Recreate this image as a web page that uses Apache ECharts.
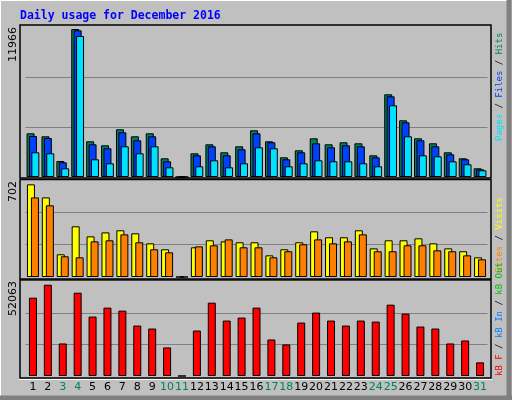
<!DOCTYPE html>
<html><head><meta charset="utf-8">
<script src="https://cdn.jsdelivr.net/npm/echarts@6/dist/echarts.min.js"></script>
<style>html,body{margin:0;padding:0;background:#C0C0C0}#c{width:512px;height:400px}</style>
</head><body><div id="c"></div>
<script>
var days = ['1','2','3','4','5','6','7','8','9','10','11','12','13','14','15','16','17','18','19','20','21','22','23','24','25','26','27','28','29','30','31'];
var weekend = ['3','4','10','11','17','18','24','25','31'];
var hits  = [3533,3290,1294,11966,2886,2563,3857,3290,3533,1512,0,1916,2644,1997,2482,3776,2886,1593,2159,3129,2644,2806,2725,1754,6686,4584,3129,2725,1997,1512,703];
var files = [3315,3153,1188,11860,2644,2320,3614,2967,3290,1269,0,1754,2482,1754,2240,3533,2806,1431,1997,2725,2401,2563,2482,1593,6525,4422,2967,2482,1835,1431,623];
var pages = [1997,1916,703,11400,1431,1108,2482,1916,2482,784,0,865,1350,784,1108,2401,2320,865,1108,1350,1269,1269,1108,865,5797,3290,1754,1675,1269,1027,542];
var visits = [702,603,172,384,308,338,354,331,255,210,0,225,278,270,263,263,164,210,263,346,301,301,354,217,278,278,293,255,217,195,149];
var sites  = [603,543,157,149,270,278,323,263,210,187,0,232,240,285,225,225,149,195,248,285,255,270,323,195,195,240,240,202,195,164,134];
var kbytes = [44690,52063,18570,47530,33900,39010,37300,28790,27080,16300,0,25950,41850,31630,33330,39010,20840,18000,30490,36170,31630,28790,31630,31060,40710,35600,28220,27080,18570,20270,7780];
var maxLabels = ['11966','702','52063'];

var ch = echarts.init(document.getElementById('c'));
var gl = 25.5, gw = 462;
function yAx(idx, max){
  return {gridIndex: idx, type:'value', min:0, max:max, interval:max/3,
    axisLabel:{show:false}, axisLine:{show:false}, axisTick:{show:false},
    splitLine:{show:true, showMinLine:false, showMaxLine:false, lineStyle:{color:'#808080', width:1}}};
}
function xAx(idx, show){
  return {gridIndex: idx, type:'category', data: days, axisLine:{show:false}, axisTick:{show:false},
    axisLabel: show ? {show:true, interval:0, margin:6, fontFamily:'DejaVu Sans', fontSize:11,
      formatter:function(v){ return weekend.indexOf(v)>=0 ? '{w|'+v+'}' : '{n|'+v+'}'; },
      rich:{w:{color:'#00805C', fontSize:11, fontFamily:'DejaVu Sans'}, n:{color:'#000', fontSize:11, fontFamily:'DejaVu Sans'}}} : {show:false}};
}
function bar(name, data, xi, color, gap){
  var s = {name:name, type:'bar', data:data, xAxisIndex:xi, yAxisIndex:xi, barWidth:8,
    itemStyle:{color:color, borderColor:'#000', borderWidth:1}, animation:false, silent:true};
  if (gap) s.barGap = gap;
  return s;
}
var mono = 'DejaVu Sans Mono';
function vtext(x, y, rich, text, size){
  return {type:'text', x:x, y:y, rotation:Math.PI/2, silent:true,
    style:{text:text, rich:rich, fontFamily:mono, fontSize:size, align:'left', verticalAlign:'middle'}};
}
function panel(y1, y2){
  return [
    {type:'rect', shape:{x:20, y:y1, width:471, height:y2-y1}, style:{fill:'none', stroke:'#000', lineWidth:1.5}, z:-1},
    {type:'line', shape:{x1:19, y1:y2+1.5, x2:492, y2:y2+1.5}, style:{stroke:'#fff', lineWidth:1}, z:-1}
  ];
}
var ylab = function(x, y, t){
  return {type:'text', x:x, y:y, rotation:Math.PI/2, silent:true,
    style:{text:t, fontFamily:'DejaVu Sans', fontSize:11, fill:'#000', align:'right', verticalAlign:'middle'}};
};
var graphics = [
  {type:'rect', shape:{x:0.5, y:0.5, width:510, height:398}, style:{fill:'none', stroke:'#fff', lineWidth:1}},
  {type:'line', shape:{x1:509, y1:0, x2:509, y2:400}, style:{stroke:'#808080', lineWidth:5}},
  {type:'line', shape:{x1:0, y1:398, x2:512, y2:398}, style:{stroke:'#808080', lineWidth:5}},
  {type:'text', x:20, y:16, silent:true, style:{text:'Daily usage for December 2016', fontFamily:mono, fontWeight:'bold', fontSize:11.5, fill:'#0000FF', verticalAlign:'middle'}},
  ylab(13, 27, maxLabels[0]), ylab(13, 181, maxLabels[1]), ylab(13, 281, maxLabels[2]),
  vtext(500, 141, {p:{fill:'#00E0FF'}, f:{fill:'#0040FF'}, h:{fill:'#00805C'}, s:{fill:'#000'}},
    '{p|Pages}{s| / }{f|Files}{s| / }{h|Hits}', 9),
  vtext(500, 273, {o:{fill:'#FF8000'}, v:{fill:'#FFFF00'}, s:{fill:'#000'}},
    '{o|Sites}{s| / }{v|Visits}', 9),
  vtext(500, 376, {a:{fill:'#FF0000'}, b:{fill:'#0080FF'}, c:{fill:'#00C000'}, s:{fill:'#000'}},
    '{a|kB F}{s| / }{b|kB In}{s| / }{c|kB Out}', 9)
].concat(panel(25,178), panel(179.5,279), panel(280,378));

ch.setOption({
  backgroundColor:'#C0C0C0',
  animation:false,
  grid:[
    {left:gl, width:gw, top:27, height:150},
    {left:gl, width:gw, top:180, height:97},
    {left:gl, width:gw, top:282, height:94}
  ],
  xAxis:[xAx(0,false), xAx(1,false), xAx(2,true)],
  yAxis:[yAx(0, 12128), yAx(1, 735), yAx(2, 53640)],
  series:[
    bar('Hits', hits, 0, '#00805C'),
    bar('Files', files, 0, '#0040FF', '-70%'),
    bar('Pages', pages, 0, '#00E0FF', '-70%'),
    bar('Visits', visits, 1, '#FFFF00'),
    bar('Sites', sites, 1, '#FF8000', '-50%'),
    bar('KBytes', kbytes, 2, '#FF0000')
  ],
  graphic: graphics
});
</script></body></html>
